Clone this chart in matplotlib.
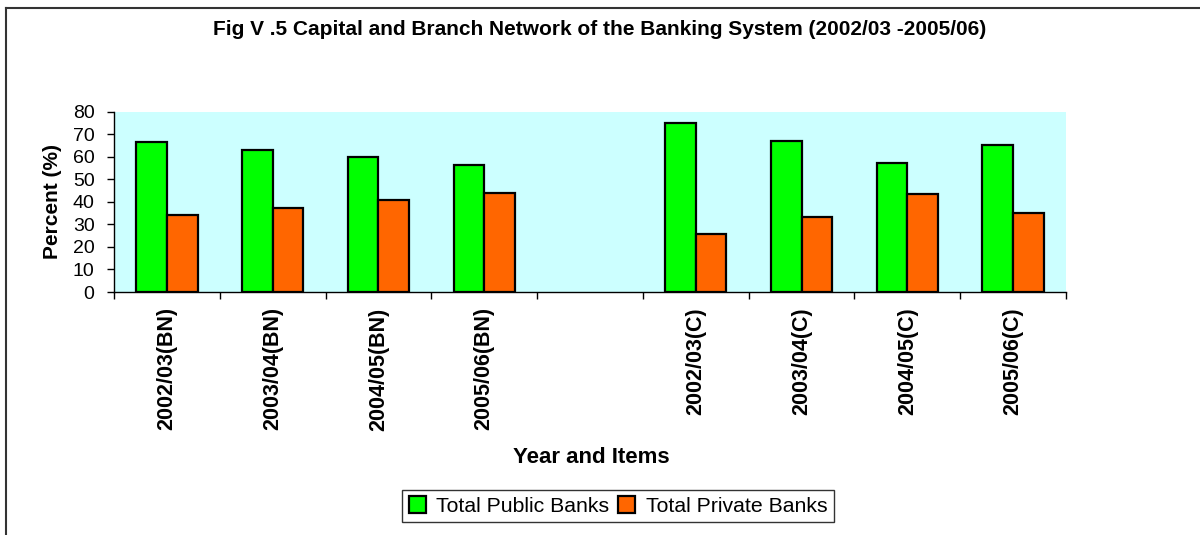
import numpy as np
import matplotlib
matplotlib.use("Agg")
import matplotlib.pyplot as plt
from matplotlib.lines import Line2D

plt.rcParams['font.family'] = ['Liberation Sans', 'DejaVu Sans']

# categories (blank slot separates branch network and capital)
categories = ['2002/03(BN)', '2003/04(BN)', '2004/05(BN)', '2005/06(BN)', '',
              '2002/03(C)', '2003/04(C)', '2004/05(C)', '2005/06(C)']
public_banks = [66.5, 63.3, 59.8, 56.3, np.nan, 75.0, 67.3, 57.4, 65.2]
private_banks = [34.0, 37.2, 40.8, 44.1, np.nan, 25.6, 33.4, 43.5, 35.3]

fig = plt.figure(figsize=(12, 5.35), dpi=100)
ax = fig.add_axes([0.095, 0.4542, 0.7933, 0.3365])
ax.set_facecolor('#CCFFFF')

x = np.arange(len(categories))
w = 0.29
ax.bar(x - w/2, public_banks, w, color='#00FF00', edgecolor='black', linewidth=1.6,
       label='Total Public Banks')
ax.bar(x + w/2, private_banks, w, color='#FF6600', edgecolor='black', linewidth=1.6,
       label='Total Private Banks')

ax.set_xlim(-0.5, len(categories) - 0.5)
ax.set_ylim(0, 80)
ax.set_yticks(np.arange(0, 81, 10))
ax.tick_params(axis='y', labelsize=14, length=5, width=1, pad=9)

# ticks between categories, labels at the centres
ax.set_xticks(np.arange(-0.5, len(categories), 1.0))
ax.set_xticklabels([])
ax.set_xticks(x, minor=True)
ax.set_xticklabels(categories, minor=True, rotation=90, fontsize=15.5, fontweight='bold')
ax.tick_params(axis='x', which='major', length=5, width=1)
ax.tick_params(axis='x', which='minor', length=0, pad=11)

for s in ['top', 'right']:
    ax.spines[s].set_visible(False)
ax.spines['left'].set_linewidth(1)
ax.spines['bottom'].set_linewidth(1)

ax.set_ylabel('Percent (%)', fontsize=15, fontweight='bold', labelpad=8)
fig.text(0.493, 0.144, 'Year and Items', fontsize=16, fontweight='bold',
         ha='center', va='center')
fig.text(0.5, 0.944, 'Fig V .5 Capital and Branch Network of the Banking System (2002/03 -2005/06)',
         fontsize=15, fontweight='bold', ha='center', va='center')

leg = fig.legend(loc='center', bbox_to_anchor=(0.515, 0.054), ncol=2, fontsize=15.3,
                 frameon=True, fancybox=False, edgecolor='black', handlelength=0.8,
                 handleheight=0.8, handletextpad=0.5, columnspacing=0.4,
                 borderpad=0.3)
leg.get_frame().set_linewidth(1)

# outer border (left and top)
fig.add_artist(Line2D([0.005, 0.005], [0, 0.985], transform=fig.transFigure,
                      color='#333333', linewidth=1.5))
fig.add_artist(Line2D([0.005, 1.0], [0.985, 0.985], transform=fig.transFigure,
                      color='#333333', linewidth=1.5))

fig.savefig('out.png', dpi=100)
